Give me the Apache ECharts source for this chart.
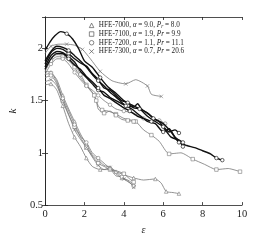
<!DOCTYPE html>
<html><head><meta charset="utf-8">
<script src="https://cdn.jsdelivr.net/npm/echarts@6/dist/echarts.min.js"></script>
<style>html,body{margin:0;padding:0;background:#fff}#c{width:266px;height:240px}</style>
</head><body><div id="c"></div>
<script>
// Tick values
var xTicks = [0, 2, 4, 6, 8, 10];
var yTicks = [0.5, 1, 1.5, 2];
// Fluid categories
var fluids = ['HFE-7000', 'HFE-7100', 'HFE-7200', 'HFE-7300'];
var alphas = ['9.0', '1.9', '1.1', '0.7'];
var prandtl = ['8.0', '9.9', '11.1', '20.6'];

// Lower bundle (thin gray)
var low1 = [[0,1.65],[0.3,1.66],[0.6,1.6],[0.9,1.45],[1.2,1.28],[1.5,1.15],[1.8,1.06],[2.1,0.95],[2.4,0.87],[2.8,0.84],[3.2,0.84],[3.6,0.82],[4.0,0.79],[4.5,0.76],[5.0,0.74],[5.6,0.75],[5.9,0.71],[6.15,0.63],[6.5,0.62],[6.8,0.61]];
var low2 = [[0,1.78],[0.3,1.77],[0.6,1.7],[0.9,1.55],[1.2,1.42],[1.5,1.3],[1.8,1.18],[2.1,1.08],[2.4,0.98],[2.7,0.93],[3.0,0.88],[3.3,0.86],[3.6,0.8],[3.9,0.76],[4.2,0.74],[4.5,0.7]];
var low3 = [[0,1.75],[0.3,1.76],[0.6,1.68],[0.9,1.5],[1.2,1.36],[1.5,1.25],[1.8,1.15],[2.1,1.05],[2.4,0.97],[2.7,0.9],[3.0,0.87],[3.3,0.84],[3.6,0.83],[4.0,0.8],[4.3,0.75],[4.5,0.72]];
var low4 = [[0,1.72],[0.3,1.74],[0.6,1.66],[0.9,1.52],[1.2,1.4],[1.5,1.27],[1.8,1.16],[2.1,1.1],[2.4,1.0],[2.7,0.95],[3.0,0.9],[3.3,0.85],[3.6,0.78],[3.9,0.77],[4.2,0.73],[4.5,0.68]];
var low5 = [[0,1.68],[0.3,1.7],[0.6,1.64],[0.9,1.5],[1.2,1.37],[1.5,1.22],[1.8,1.13],[2.1,1.05],[2.4,0.96],[2.7,0.88],[3.0,0.84],[3.3,0.86],[3.6,0.82],[4.0,0.75],[4.4,0.7],[4.5,0.67]];

// Upper thin gray curves
var up1 = [[0,1.8],[0.3,1.9],[0.6,1.94],[1.0,1.93],[1.4,1.88],[1.8,1.75],[2.2,1.62],[2.5,1.55],[2.7,1.45],[2.9,1.41],[3.2,1.4],[3.6,1.37],[4.0,1.33],[4.6,1.3],[5.0,1.22],[5.4,1.17],[5.8,1.11],[6.3,0.99],[6.9,1.0],[7.5,0.94],[8.1,0.89],[8.7,0.84],[9.3,0.85],[9.9,0.82]];
var up2 = [[0,1.78],[0.3,1.88],[0.6,1.92],[0.9,1.92],[1.2,1.88],[1.5,1.82],[1.8,1.72],[2.1,1.65],[2.4,1.58],[2.6,1.5],[2.7,1.42],[3.0,1.38],[3.3,1.4],[3.6,1.36],[3.9,1.32],[4.2,1.31],[4.5,1.3]];
var up3 = [[0,1.75],[0.3,1.85],[0.6,1.9],[0.9,1.9],[1.2,1.85],[1.5,1.77],[1.8,1.7],[2.1,1.64],[2.4,1.6],[2.7,1.55],[3.0,1.5],[3.3,1.46],[3.6,1.42],[4.0,1.4],[4.5,1.38],[5.0,1.33],[5.5,1.3],[5.8,1.31],[6.1,1.28]];
var cross1 = [[0,1.95],[0.3,2.02],[0.7,2.04],[1.1,2.04],[1.5,2.03],[1.9,1.99],[2.3,1.9],[2.8,1.78],[3.4,1.69],[4.1,1.66],[4.6,1.7],[5.2,1.64],[5.4,1.56],[5.9,1.54]];

// Thick black curves
var thick1 = [[0,1.98],[0.25,2.06],[0.5,2.12],[0.8,2.16],[1.1,2.14],[1.4,2.09],[1.7,2.0],[2.0,1.88],[2.4,1.82],[2.8,1.72],[3.2,1.63],[3.6,1.57],[4.0,1.5],[4.4,1.46],[4.8,1.42],[5.2,1.38],[5.6,1.32],[6.0,1.28],[6.4,1.2],[6.8,1.1],[7.2,1.07],[7.6,1.05],[8.0,1.02],[8.4,0.99],[8.7,0.95],[9.0,0.93]];
var thick2 = [[0,1.85],[0.3,1.96],[0.6,2.0],[0.9,1.99],[1.2,1.95],[1.5,1.9],[1.8,1.86],[2.1,1.83],[2.4,1.76],[2.7,1.7],[3.0,1.62],[3.3,1.6],[3.6,1.55],[3.9,1.5],[4.2,1.48],[4.5,1.43],[4.8,1.42],[5.2,1.35],[5.6,1.3],[6.0,1.25],[6.3,1.2],[6.6,1.22],[6.8,1.19]];
var thick3 = [[0,1.82],[0.3,1.93],[0.6,1.97],[0.9,1.96],[1.2,1.92],[1.5,1.87],[1.8,1.78],[2.1,1.72],[2.4,1.66],[2.7,1.6],[3.0,1.58],[3.3,1.53],[3.6,1.5],[3.9,1.47],[4.2,1.45],[4.5,1.44],[4.7,1.47],[4.9,1.42],[5.2,1.38],[5.5,1.33],[5.8,1.3],[6.1,1.22],[6.4,1.15],[6.8,1.12],[7.0,1.06]];
var thick4 = [[0,1.88],[0.3,1.97],[0.6,2.02],[0.9,2.01],[1.2,1.98],[1.5,1.93],[1.8,1.88],[2.1,1.82],[2.4,1.75],[2.7,1.69],[3.0,1.64],[3.3,1.58],[3.5,1.55],[3.8,1.5],[4.1,1.45],[4.4,1.42],[4.8,1.36],[5.2,1.3],[5.6,1.28],[6.0,1.2],[6.3,1.23],[6.6,1.15],[7.0,1.1]];
var thick5 = [[0,1.8],[0.3,1.9],[0.6,1.95],[0.9,1.95],[1.2,1.9],[1.5,1.84],[1.8,1.8],[2.1,1.73],[2.4,1.68],[2.7,1.62],[3.0,1.55],[3.3,1.52],[3.6,1.48],[4.0,1.43],[4.3,1.4],[4.7,1.35],[5.0,1.33],[5.4,1.3]];

var symbols = {
  'HFE-7000': 'triangle',
  'HFE-7100': 'rect',
  'HFE-7200': 'circle',
  'HFE-7300': 'path://M0,0L10,10M10,0L0,10'
};
var GRAY = '#777';

function thin(name, pts, every) {
  return {
    type: 'line', name: name, xAxisIndex: 0, yAxisIndex: 0,
    data: pts.map(function (p, i) {
      return (i % every === every - 1 || i === pts.length - 1) ? {value: p} : {value: p, symbol: 'none'};
    }),
    symbol: symbols[name], symbolSize: 3.5, showAllSymbol: true,
    lineStyle: {color: GRAY, width: 0.8},
    itemStyle: {color: '#fff', borderColor: GRAY, borderWidth: 0.6},
    smooth: 0.2, animation: false, z: 2
  };
}
function thick(name, pts) {
  return {
    type: 'line', name: name, xAxisIndex: 0, yAxisIndex: 0,
    data: pts.map(function (p, i) {
      return (i === pts.length - 1 || i % 5 === 4) ? {value: p} : {value: p, symbol: 'none'};
    }),
    symbol: 'circle', symbolSize: 3.5, showAllSymbol: true,
    lineStyle: {color: '#111', width: 1.4},
    itemStyle: {color: '#fff', borderColor: '#222', borderWidth: 0.7},
    smooth: 0.2, animation: false, z: 3
  };
}

var series = [
  thin('HFE-7000', low1, 2), thin('HFE-7000', low2, 2), thin('HFE-7100', low3, 2),
  thin('HFE-7200', low4, 2), thin('HFE-7300', low5, 2),
  thin('HFE-7100', up1, 2), thin('HFE-7100', up2, 2), thin('HFE-7200', up3, 2),
  thin('HFE-7300', cross1, 2),
  thick('HFE-7200', thick1), thick('HFE-7200', thick2), thick('HFE-7200', thick3),
  thick('HFE-7200', thick4), thick('HFE-7200', thick5)
];

var FONT = 'Liberation Serif';
var FS = 7.2;
var chart = echarts.init(document.getElementById('c'), null, {renderer: 'canvas'});
chart.setOption({
  animation: false,
  grid: {left: 35, right: 24, top: 17, bottom: 27},
  legend: {
    orient: 'vertical', left: 89, top: 21, padding: 0, itemGap: 0,
    itemWidth: 4.5, itemHeight: 4.5,
    selectedMode: false,
    data: fluids.map(function (f) {
      return {name: f, icon: symbols[f],
        itemStyle: {color: '#fff', borderColor: '#555', borderWidth: 0.7}};
    }),
    formatter: function (name) {
      var i = fluids.indexOf(name);
      var pr = i === 0 ? '{i|P}{s|r}' : '{i|Pr}';
      return '{t|' + name + ', }{i|α}{t| = ' + alphas[i] + ', }' + pr + '{t| = ' + prandtl[i] + '}';
    },
    textStyle: {
      fontFamily: FONT, fontSize: FS, color: '#222', lineHeight: 8.7,
      rich: {
        t: {fontFamily: FONT, fontSize: FS, color: '#222', lineHeight: 8.7},
        i: {fontFamily: FONT, fontSize: FS, fontStyle: 'italic', color: '#222', lineHeight: 8.7},
        s: {fontFamily: FONT, fontSize: 5.2, fontStyle: 'italic', color: '#222', lineHeight: 8.7, padding: [3, 0, 0, 0]}
      }
    }
  },
  xAxis: [{
    type: 'value', min: xTicks[0], max: xTicks[xTicks.length - 1], interval: 2,
    name: 'ε', nameLocation: 'middle', nameGap: 16,
    nameTextStyle: {fontFamily: FONT, fontSize: 10, fontStyle: 'italic', color: '#222'},
    axisLine: {lineStyle: {color: '#222', width: 0.8}},
    axisTick: {inside: true, length: 3, lineStyle: {color: '#222', width: 0.8}},
    axisLabel: {fontFamily: FONT, fontSize: 10.5, color: '#222', margin: 4},
    splitLine: {show: false}
  }, {
    type: 'value', position: 'top', min: 0, max: 10, interval: 2,
    axisLine: {lineStyle: {color: '#222', width: 0.8}},
    axisTick: {inside: true, length: 3, lineStyle: {color: '#222', width: 0.8}},
    axisLabel: {show: false}, splitLine: {show: false}
  }],
  yAxis: [{
    type: 'value', min: yTicks[0], max: 2.3, interval: 0.5,
    name: 'k', nameLocation: 'middle', nameGap: 22,
    nameTextStyle: {fontFamily: FONT, fontSize: 11, fontStyle: 'italic', color: '#222'},
    axisLine: {lineStyle: {color: '#222', width: 0.8}},
    axisTick: {inside: true, length: 3, lineStyle: {color: '#222', width: 0.8}},
    axisLabel: {fontFamily: FONT, fontSize: 10.5, color: '#222', margin: 2, showMaxLabel: false},
    splitLine: {show: false}
  }, {
    type: 'value', position: 'right', min: 0.5, max: 2.3, interval: 0.5,
    axisLine: {show: true, lineStyle: {color: '#222', width: 0.8}},
    axisTick: {show: true, inside: true, length: 3, lineStyle: {color: '#222', width: 0.8}},
    axisLabel: {show: false}, splitLine: {show: false}
  }],
  series: series
});
</script></body></html>
